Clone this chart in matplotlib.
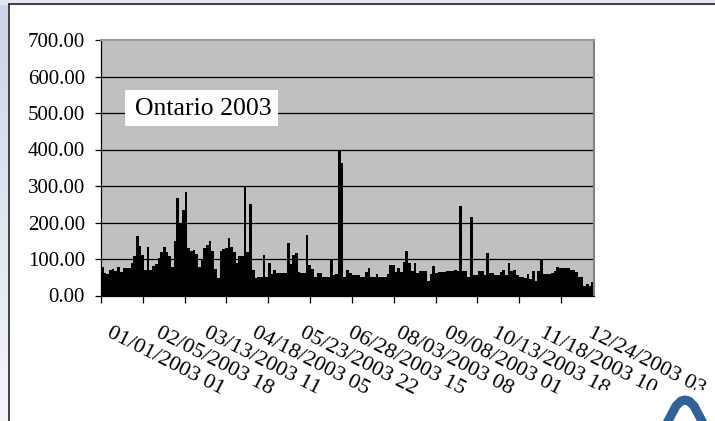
import matplotlib
matplotlib.use("Agg")
import matplotlib.pyplot as plt
import numpy as np
from matplotlib.patches import Rectangle
from matplotlib.colors import LinearSegmentedColormap

plt.rcParams['font.family'] = ['Liberation Serif', 'DejaVu Serif']

# Ontario hourly price 2003, peak value per 2-day block
block_hours = 48
price = [79, 62, 59, 70, 72, 68, 77, 64, 74, 74,
         74, 90, 107, 162, 136, 110, 71, 134, 70, 82,
         86, 102, 118, 134, 118, 107, 77, 150, 268, 200,
         233, 283, 130, 123, 125, 114, 77, 100, 130, 139,
         149, 123, 73, 48, 123, 128, 130, 158, 134, 120,
         90, 107, 107, 298, 118, 251, 71, 47, 52, 52,
         111, 50, 88, 59, 70, 61, 61, 61, 61, 144,
         87, 112, 116, 64, 61, 61, 167, 84, 73, 50,
         61, 61, 52, 52, 52, 98, 55, 60, 397, 363,
         52, 70, 62, 57, 57, 57, 52, 52, 64, 75,
         50, 50, 59, 52, 52, 52, 59, 84, 84, 64,
         75, 64, 91, 121, 88, 68, 88, 61, 66, 66,
         66, 41, 60, 82, 61, 64, 64, 64, 67, 67,
         67, 71, 67, 246, 67, 67, 52, 214, 56, 56,
         66, 66, 56, 116, 61, 61, 56, 56, 64, 71,
         56, 88, 67, 70, 56, 52, 52, 47, 59, 46,
         66, 41, 68, 96, 59, 59, 59, 61, 68, 77,
         75, 75, 75, 75, 71, 71, 64, 52, 52, 25,
         32, 27, 36]

date_labels = ['01/01/2003 01', '02/05/2003 18', '03/13/2003 11',
               '04/18/2003 05', '05/23/2003 22', '06/28/2003 15',
               '08/03/2003 08', '09/08/2003 01', '10/13/2003 18',
               '11/18/2003 10', '12/24/2003 03']
label_step = 857      # hours between category labels
tick_step = 745       # hours between tick marks
y_ticks = [0, 100, 200, 300, 400, 500, 600, 700]
title = 'Ontario 2003'

W, H = 715, 421
fig = plt.figure(figsize=(W / 100, H / 100), dpi=100)
fig.patch.set_facecolor('white')

# slide background / chart frame
bg = fig.add_axes([0, 0, 1, 1])
bg.set_xlim(0, W)
bg.set_ylim(H, 0)
bg.axis('off')
cmap = LinearSegmentedColormap.from_list('slide', ['#cbd4e8', '#f4f6fa'])
bg.imshow(np.linspace(0, 1, 200).reshape(-1, 1), cmap=cmap, aspect='auto',
          extent=(0, 8, H, 0), zorder=0)
bg.add_patch(Rectangle((0, 0), W, 3.5, color='#e2e6ef', zorder=0))
bg.plot([8.5, 8.5], [H, 4], color='#333333', lw=1.3, solid_capstyle='butt')
bg.plot([8, W], [4, 4], color='#333333', lw=1.3, solid_capstyle='butt')
# logo fragment bottom right
bg.plot([667, 676, 681, 685, 689, 694, 703], [H + 2, 406, 401, 400, 401, 406, H + 2],
        color='#2f6298', lw=6.5, solid_joinstyle='round')

ax = fig.add_axes([101 / W, 125.5 / H, 493 / W, 255.5 / H])
ax.set_facecolor('#c0c0c0')

n = len(price)
x = np.arange(n) * block_hours + block_hours / 2
ax.bar(x, price, width=block_hours, color='black', linewidth=0, zorder=2)
ax.hlines(y_ticks[1:-1], 0, n * block_hours, colors='black', lw=0.9, zorder=1)

ax.set_xlim(0, n * block_hours)
ax.set_ylim(y_ticks[0], y_ticks[-1])
ax.set_yticks(y_ticks)
ax.set_yticklabels(['%.2f' % v for v in y_ticks], fontsize=15)
ax.set_xticks(np.arange(0, n * block_hours, tick_step))
ax.set_xticklabels([])
ax.tick_params(axis='y', direction='out', length=4.5, width=0.9, pad=7, colors='black')
ax.tick_params(axis='x', direction='out', length=5, width=0.9, colors='black')

for side in ['left', 'bottom']:
    ax.spines[side].set_color('black')
    ax.spines[side].set_linewidth(0.9)
ax.spines['top'].set_color('#9a9a9a')
ax.spines['top'].set_linewidth(1.5)
ax.spines['right'].set_color('#808080')
ax.spines['right'].set_linewidth(1.5)

# category labels (the last ones are cut off by the chart area)
for k, lab in enumerate(date_labels):
    t = ax.text(label_step * k + 210, -0.11, lab, transform=ax.get_xaxis_transform(),
                rotation=-27, rotation_mode='anchor', ha='left', va='top',
                fontsize=16, clip_on=False)
    if k >= 7:
        lim = 397 if k == 7 else 390
        t.set_clip_path(Rectangle((0, 0), W, lim, transform=bg.transData))
        t.set_clip_on(True)

# title box
ax.add_patch(Rectangle((24 / 493, (295.5 - 126) / 255.5), 153 / 493, 36 / 255.5,
                       transform=ax.transAxes, facecolor='white', edgecolor='none', zorder=3))
ax.text((203 - 101) / 493, (295.5 - 109) / 255.5, title, transform=ax.transAxes,
        ha='center', va='center', fontsize=18.5, zorder=4)

fig.savefig('out.png', dpi=100)
